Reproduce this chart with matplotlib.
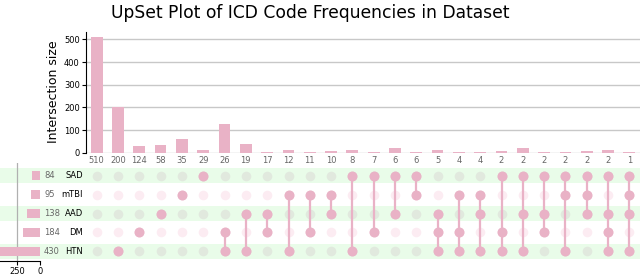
import matplotlib
matplotlib.use("Agg")
import matplotlib.pyplot as plt

# Sets (top to bottom in the matrix) and their sizes
set_names = ["SAD", "mTBI", "AAD", "DM", "HTN"]
set_sizes = [84, 95, 138, 184, 430]

# Intersection labels shown under the bars
count_labels = [510, 200, 124, 58, 35, 29, 26, 19, 17, 12, 11, 10, 8, 7, 6, 6,
                5, 4, 4, 2, 2, 2, 2, 2, 2, 1]

# Bar heights as drawn in the chart
bar_heights = [510, 200, 30, 33, 60, 13, 125, 38, 3, 13, 3, 7, 12, 3, 20, 3,
               13, 4, 4, 7, 20, 3, 3, 7, 10, 3]

# Members of each intersection
members = [
    [], ["HTN"], ["DM"], ["AAD"], ["mTBI"], ["SAD"],
    ["DM", "HTN"], ["AAD", "HTN"], ["AAD", "DM"], ["mTBI", "HTN"],
    ["mTBI", "DM"], ["mTBI", "AAD"], ["SAD", "HTN"], ["SAD", "DM"],
    ["SAD", "AAD"], ["SAD", "mTBI"], ["AAD", "DM", "HTN"],
    ["mTBI", "DM", "HTN"], ["mTBI", "AAD", "HTN"], ["SAD", "DM", "HTN"],
    ["SAD", "AAD", "HTN"], ["SAD", "AAD", "DM"], ["SAD", "mTBI", "HTN"],
    ["SAD", "mTBI", "AAD"], ["SAD", "AAD", "DM", "HTN"],
    ["SAD", "mTBI", "AAD", "HTN"],
]

PINK = "#e9b2c6"
SHADE = "#e9fce9"
DOT_SHADED = "#e1e9de"
DOT_WHITE = "#fcecf2"

W, H = 640, 277
fig = plt.figure(figsize=(W / 100, H / 100), dpi=100)


def px_axes(x0, y0, x1, y1, **kw):
    # pixel box (top-left origin) -> figure axes
    return fig.add_axes([x0 / W, 1 - y1 / H, (x1 - x0) / W, (y1 - y0) / H], **kw)


n = len(bar_heights)
xs = list(range(n))
step = 553 / 26.0
x_left_px = 86

# ---- intersection bars ----
ax_bar = px_axes(x_left_px, 31.5, 640, 152.7)
ax_bar.bar(xs, bar_heights, width=0.55, color=PINK, zorder=3)
ax_bar.set_xlim(-0.5, n - 0.5)
ax_bar.set_ylim(0, 535)
ax_bar.set_yticks([0, 100, 200, 300, 400, 500])
ax_bar.tick_params(axis="y", labelsize=6, length=3, width=0.8, pad=1.5)
ax_bar.set_xticks(xs)
ax_bar.set_xticklabels([str(c) for c in count_labels], fontsize=6, color="#666666")
ax_bar.tick_params(axis="x", length=0, pad=2.5)
ax_bar.yaxis.grid(True, color="#c8c8c8", lw=1.0, zorder=0)
for s in ["top", "right", "bottom"]:
    ax_bar.spines[s].set_visible(False)
ax_bar.spines["left"].set_linewidth(0.8)
ax_bar.set_ylabel("Intersection size", fontsize=9, labelpad=3)

# ---- matrix (spans full width for the shading) ----
row_y = {name: len(set_names) - 1 - i for i, name in enumerate(set_names)}
ax_mat = px_axes(0, 166.3, 640, 260.8)
ax_mat.set_xlim(-0.5 - x_left_px / step, n - 0.5)
ax_mat.set_ylim(-0.5, len(set_names) - 0.5)
ax_mat.axis("off")

for i, name in enumerate(set_names):
    y = row_y[name]
    shaded = i % 2 == 0
    if shaded:
        ax_mat.axhspan(y - 0.385, y + 0.385, color=SHADE, zorder=0, lw=0)
    ax_mat.scatter(xs, [y] * n, s=48, color=DOT_SHADED if shaded else DOT_WHITE,
                   zorder=2, lw=0)

for x, mem in zip(xs, members):
    ys = [row_y[m] for m in mem]
    if len(ys) > 1:
        ax_mat.plot([x, x], [min(ys), max(ys)], color=PINK, lw=1.6, zorder=3)
    if ys:
        ax_mat.scatter([x] * len(ys), ys, s=52, color=PINK, zorder=4, lw=0)


# set labels and counts, placed in pixel x via the matrix data scale
def px_to_x(p):
    return -0.5 - x_left_px / step + p / step


for name, size in zip(set_names, set_sizes):
    y = row_y[name]
    ax_mat.text(px_to_x(44), y, str(size), fontsize=6, color="#666666",
                ha="left", va="center", zorder=5)
    ax_mat.text(px_to_x(83), y, name, fontsize=6, color="black",
                ha="right", va="center", zorder=5)

# ---- set size bars ----
ax_set = px_axes(0, 163, 40, 260.8)
ax_set.patch.set_alpha(0)
ax_set.barh([row_y[nm] for nm in set_names], set_sizes, height=0.5, color=PINK, zorder=3)
ax_set.set_xlim(435, 0)
ax_set.set_ylim(-0.5, len(set_names) - 0.5 + (166.3 - 163) / 18.9)
ax_set.set_xticks([250, 0])
ax_set.tick_params(axis="x", labelsize=6, length=3, width=0.8, pad=1.5)
ax_set.set_yticks([])
ax_set.axvline(250, color="#b0b0b0", lw=0.9, zorder=1)
for s in ["top", "right", "left"]:
    ax_set.spines[s].set_visible(False)
ax_set.spines["bottom"].set_linewidth(0.8)

fig.suptitle("UpSet Plot of ICD Code Frequencies in Dataset", fontsize=12.3,
             x=0.485, y=0.985)

fig.savefig("out.png", dpi=100)
